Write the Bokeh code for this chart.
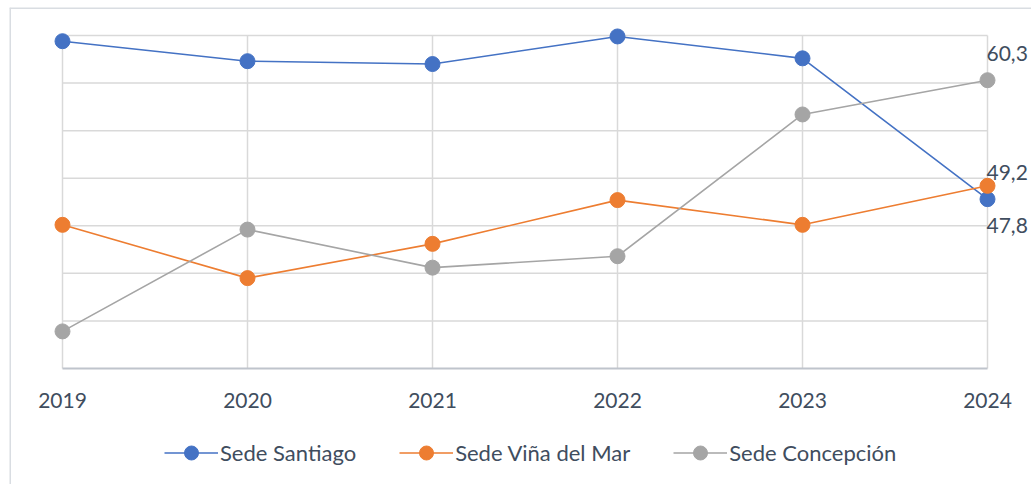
from bokeh.plotting import figure
from bokeh.models import (Range1d, FixedTicker, Legend, LegendItem, LabelSet,
                          ColumnDataSource)
from bokeh.core.properties import value
from bokeh.embed import file_html
from bokeh.resources import INLINE

# ---- data ----
years = [2019, 2020, 2021, 2022, 2023, 2024]
santiago = [64.4, 62.3, 62.0, 64.9, 62.6, 47.8]
vina = [45.1, 39.5, 43.1, 47.7, 45.1, 49.2]
concepcion = [33.9, 44.6, 40.6, 41.8, 56.7, 60.3]
series_names = ["Sede Santiago", "Sede Viña del Mar", "Sede Concepción"]
y_ticks = [30, 35, 40, 45, 50, 55, 60, 65]

colors = ["#4472C4", "#ED7D31", "#A5A5A5"]
FONT = "Lato"
TXT = "#404D5E"

px_per_year = 185.0
x_lo = years[0] - 53 / px_per_year
x_hi = years[-1] + 44 / px_per_year
px_per_unit = 333 / 35
y_lo = y_ticks[0] - 116 / px_per_unit
y_hi = y_ticks[-1] + 28 / px_per_unit

p = figure(width=1031, height=484, output_backend="svg", toolbar_location=None,
           x_range=Range1d(x_lo, x_hi), y_range=Range1d(y_lo, y_hi),
           min_border_left=9, min_border_right=0, min_border_top=7,
           min_border_bottom=0)
p.outline_line_color = None
p.xgrid.visible = False
p.ygrid.visible = False
p.yaxis.visible = False
p.background_fill_color = "white"
p.border_fill_color = "white"

# chart-area border (left and top only, as in the reference)
p.segment(x0=[x_lo, x_lo], x1=[x_lo, x_hi], y0=[y_lo, y_hi], y1=[y_hi, y_hi],
          line_color="#D9DDE2", line_width=3)

# grid lines
p.segment(x0=[years[0]] * (len(y_ticks) - 1), x1=[years[-1]] * (len(y_ticks) - 1),
          y0=y_ticks[1:], y1=y_ticks[1:], line_color="#D9D9D9", line_width=1.5)
p.segment(x0=years, x1=years, y0=[y_ticks[0]] * len(years), y1=[y_ticks[-1]] * len(years),
          line_color="#D9D9D9", line_width=1.5)
# bottom axis line
p.segment(x0=[years[0]], x1=[years[-1]], y0=[y_ticks[0]], y1=[y_ticks[0]],
          line_color="#BFC4CC", line_width=2)

xa = p.xaxis[0]
xa.fixed_location = y_ticks[0]
xa.ticker = FixedTicker(ticks=years)
xa.axis_line_color = None
xa.major_tick_line_color = None
xa.minor_tick_line_color = None
xa.major_label_standoff = 18
xa.major_label_text_font = FONT
xa.major_label_text_font_size = "21px"
xa.major_label_text_color = TXT

items = []
for name, vals, c in zip(series_names, [santiago, vina, concepcion], colors):
    r1 = p.line(years, vals, line_color=c, line_width=1.6)
    r2 = p.scatter(years, vals, size=15, fill_color=c, line_color=c)
    items.append(LegendItem(label=name, renderers=[r1, r2]))

legend = Legend(items=items, orientation="horizontal", location=(155, 14),
                glyph_width=54, glyph_height=35, label_height=35,
                label_standoff=2, spacing=43, padding=0, margin=0,
                border_line_color=None, background_fill_alpha=0,
                label_text_font=FONT, label_text_font_size="22px",
                label_text_color=TXT)
p.add_layout(legend, "center")

# data labels at the last year
lab_src = ColumnDataSource(dict(
    x=[years[-1]] * 3,
    y=[concepcion[-1], vina[-1], santiago[-1]],
    t=[f"{v:.1f}".replace(".", ",") for v in [concepcion[-1], vina[-1], santiago[-1]]],
    yo=[27, 13, -26],
))
labels = LabelSet(source=lab_src, x="x", y="y", text="t", x_offset=-1, y_offset="yo",
                  text_align="left", text_baseline="middle",
                  text_font=value(FONT), text_font_size=value("21px"),
                  text_color=value(TXT))
p.add_layout(labels)

open("out.html", "w").write(file_html(p, INLINE))
